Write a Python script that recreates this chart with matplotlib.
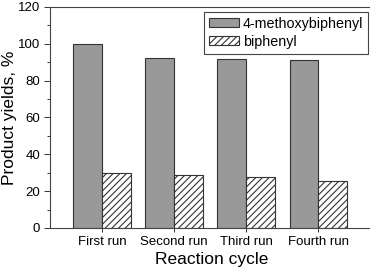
import matplotlib
matplotlib.use("Agg")
import matplotlib.pyplot as plt
import numpy as np
from matplotlib.ticker import MultipleLocator

plt.rcParams["font.family"] = ["Liberation Sans", "DejaVu Sans"]
plt.rcParams["hatch.linewidth"] = 0.8

# Data
cycles = ["First run", "Second run", "Third run", "Fourth run"]
methoxy = [100.0, 92.0, 91.6, 91.4]
biphenyl = [29.6, 28.8, 27.4, 25.4]

x = np.arange(len(cycles))
w = 0.4

fig = plt.figure(figsize=(3.7, 2.75), dpi=100)
ax = fig.add_axes([0.135, 0.171, 0.872, 0.804])

ax.bar(x - w / 2, methoxy, w, color="#999999", edgecolor="#333333",
       linewidth=0.8, label="4-methoxybiphenyl")
ax.bar(x + w / 2, biphenyl, w, color="white", edgecolor="#333333",
       linewidth=0.8, hatch="/////", label="biphenyl")

ax.set_xlim(-0.72, 3.75)
ax.set_ylim(0, 120)
ax.set_xticks(x)
ax.set_xticklabels(cycles)
ax.yaxis.set_major_locator(MultipleLocator(20))
ax.yaxis.set_minor_locator(MultipleLocator(10))
ax.tick_params(axis="both", labelsize=9.5, direction="out", width=0.7,
               colors="#333333", labelcolor="black")
ax.tick_params(axis="y", which="major", length=4, pad=3)
ax.tick_params(axis="y", which="minor", length=2, width=0.7, colors="#333333")
ax.tick_params(axis="x", length=3, pad=3)

for s in ax.spines.values():
    s.set_linewidth(0.8)
    s.set_color("#444444")

ax.set_xlabel("Reaction cycle", fontsize=12.5, labelpad=3)
ax.set_ylabel("Product yields, %", fontsize=12.5)
ax.yaxis.set_label_coords(-0.103, 0.5)

leg = ax.legend(loc="upper right", bbox_to_anchor=(0.995, 0.99), fontsize=10.3,
                fancybox=False, framealpha=1, edgecolor="#444444",
                handlelength=2.1, handleheight=0.6, borderpad=0.35,
                labelspacing=0.25, handletextpad=0.25, borderaxespad=0.2)
leg.get_frame().set_linewidth(0.8)

fig.savefig("out.png", dpi=100)
